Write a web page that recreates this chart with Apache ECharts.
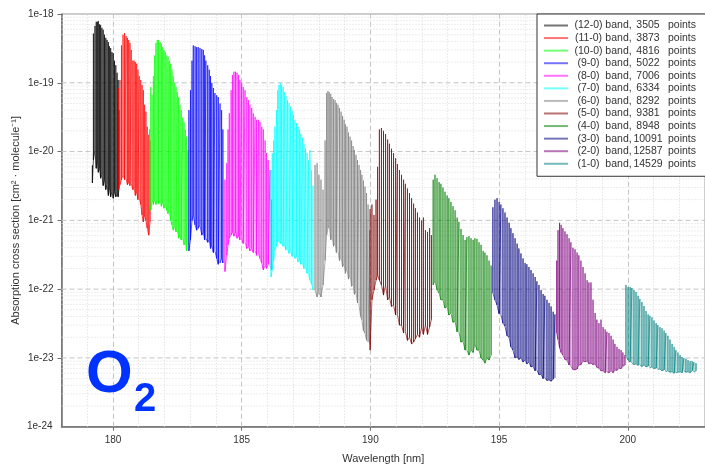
<!DOCTYPE html>
<html>
<head>
<meta charset="utf-8">
<script src="https://cdn.jsdelivr.net/npm/echarts@6/dist/echarts.min.js"></script>
<style>
  html, body { margin: 0; padding: 0; background: #ffffff; }
  #chart { width: 705px; height: 466px; }
</style>
</head>
<body>
<div id="chart"></div>
<script>
// O2 Schumann-Runge absorption bands: each entry is one rotational line,
// [wavelength nm, baseline cross section, peak cross section] in cm^2/molecule.
const band12_0 = [
  [179.20, 3.5e-21, 6.3e-21], [179.24, 7.5e-21, 5.2e-19], [179.30, 1.05e-20, 6.7e-19],
  [179.35, 5.7e-21, 7.7e-19], [179.39, 7.5e-21, 7.7e-19], [179.43, 5.0e-21, 7.9e-19],
  [179.48, 5.7e-21, 7.1e-19], [179.52, 4.1e-21, 6.9e-19], [179.57, 4.6e-21, 6.3e-19],
  [179.62, 3.2e-21, 5.9e-19], [179.67, 3.9e-21, 5.0e-19], [179.72, 2.8e-21, 4.5e-19],
  [179.77, 3.3e-21, 4.2e-19], [179.82, 2.3e-21, 3.9e-19], [179.86, 3.0e-21, 3.4e-19],
  [179.91, 2.2e-21, 3.2e-19], [179.96, 2.6e-21, 2.8e-19], [180.01, 2.1e-21, 2.7e-19],
  [180.06, 2.6e-21, 2.1e-19], [180.11, 2.2e-21, 1.8e-19], [180.16, 2.4e-21, 1.4e-19],
  [180.20, 2.2e-21, 1.1e-19], [180.23, 2.8e-21, 4.0e-20]
];
const band11_0 = [
  [180.21, 2.8e-21, 8.4e-20], [180.27, 3.3e-21, 1.1e-19], [180.33, 3.9e-21, 3.5e-19],
  [180.39, 4.6e-21, 5.0e-19], [180.45, 3.9e-21, 5.3e-19], [180.51, 4.1e-21, 4.8e-19],
  [180.56, 3.3e-21, 4.5e-19], [180.61, 3.6e-21, 4.2e-19], [180.66, 3.2e-21, 3.8e-19],
  [180.71, 3.4e-21, 3.0e-19], [180.77, 2.8e-21, 2.1e-19], [180.82, 3.0e-21, 2.1e-19],
  [180.87, 2.3e-21, 2.0e-19], [180.92, 2.6e-21, 1.9e-19], [180.97, 2.0e-21, 1.55e-19],
  [181.02, 2.1e-21, 1.25e-19], [181.08, 1.7e-21, 1.1e-19], [181.13, 1.2e-21, 9.3e-20],
  [181.18, 9.5e-22, 7.8e-20], [181.23, 1.2e-21, 4.8e-20], [181.28, 1.0e-21, 3.8e-20],
  [181.33, 7.7e-22, 2.3e-20], [181.39, 6.1e-22, 1.75e-20], [181.44, 9.5e-22, 1.45e-20]
];
const band10_0 = [
  [181.42, 1.7e-21, 2.1e-20], [181.47, 1.4e-21, 8.7e-20], [181.52, 2.0e-21, 6.7e-20],
  [181.57, 1.7e-21, 1.25e-19], [181.62, 2.0e-21, 2.5e-19], [181.67, 1.7e-21, 3.8e-19],
  [181.72, 2.1e-21, 4.2e-19], [181.77, 1.75e-21, 4.2e-19], [181.83, 2.0e-21, 3.9e-19],
  [181.88, 1.6e-21, 3.7e-19], [181.93, 1.85e-21, 3.3e-19], [181.98, 1.5e-21, 3.0e-19],
  [182.03, 1.75e-21, 2.8e-19], [182.09, 1.4e-21, 2.5e-19], [182.14, 1.25e-21, 2.4e-19],
  [182.19, 1.3e-21, 2.1e-19], [182.24, 1.0e-21, 1.9e-19], [182.29, 8.6e-22, 1.55e-19],
  [182.34, 7.2e-22, 1.25e-19], [182.40, 8.3e-22, 1.0e-19], [182.45, 6.8e-22, 8.7e-20],
  [182.50, 7.2e-22, 7.3e-20], [182.55, 5.5e-22, 6.2e-20], [182.60, 6.2e-22, 4.8e-20],
  [182.65, 5.2e-22, 4.0e-20], [182.71, 5.5e-22, 3.1e-20], [182.76, 4.4e-22, 2.7e-20],
  [182.81, 4.8e-22, 2.1e-20], [182.86, 3.6e-22, 1.65e-20], [182.91, 4.4e-22, 1.05e-20]
];
const band9_0 = [
  [182.95, 3.6e-22, 4.0e-20], [183.01, 5.2e-22, 7.8e-20], [183.07, 1.0e-21, 2.1e-19],
  [183.12, 1.2e-21, 3.5e-19], [183.19, 8.6e-22, 3.4e-19], [183.25, 7.2e-22, 3.3e-19],
  [183.31, 7.7e-22, 3.3e-19], [183.38, 8.6e-22, 3.2e-19], [183.45, 6.1e-22, 3.1e-19],
  [183.51, 6.8e-22, 3.0e-19], [183.56, 5.2e-22, 2.5e-19], [183.61, 5.5e-22, 2.1e-19],
  [183.68, 4.8e-22, 1.8e-19], [183.74, 5.2e-22, 1.55e-19], [183.79, 3.9e-22, 1.25e-19],
  [183.84, 4.4e-22, 1.0e-19], [183.90, 3.4e-22, 8.4e-20], [183.96, 3.6e-22, 7.1e-20],
  [184.03, 2.8e-22, 6.6e-20], [184.09, 2.3e-22, 6.2e-20], [184.16, 2.4e-22, 5.0e-20],
  [184.22, 2.8e-22, 4.0e-20], [184.27, 2.4e-22, 2.1e-20]
];
const band8_0 = [
  [184.35, 1.8e-22, 3.9e-21], [184.42, 3.1e-22, 6.8e-21], [184.47, 4.4e-22, 2.1e-20],
  [184.52, 5.5e-22, 3.6e-20], [184.59, 6.1e-22, 7.8e-20], [184.64, 6.8e-22, 1.3e-19],
  [184.70, 5.9e-22, 1.45e-19], [184.76, 6.8e-22, 1.45e-19], [184.82, 5.5e-22, 1.4e-19],
  [184.88, 5.9e-22, 1.3e-19], [184.93, 5.2e-22, 1.1e-19], [185.00, 5.5e-22, 1.0e-19],
  [185.06, 4.6e-22, 8.7e-20], [185.13, 4.8e-22, 7.8e-20], [185.20, 3.9e-22, 6.2e-20],
  [185.26, 4.2e-22, 5.6e-20], [185.32, 3.6e-22, 4.8e-20], [185.39, 3.9e-22, 4.3e-20],
  [185.45, 3.4e-22, 3.6e-20], [185.52, 3.6e-22, 3.2e-20], [185.58, 3.1e-22, 2.9e-20],
  [185.65, 3.3e-22, 2.9e-20], [185.71, 2.8e-22, 2.7e-20], [185.78, 2.4e-22, 2.3e-20],
  [185.84, 1.9e-22, 2.1e-20], [185.91, 2.2e-22, 1.45e-20], [185.97, 2.0e-22, 9.5e-21],
  [186.03, 2.3e-22, 7.5e-21], [186.10, 2.2e-22, 5.4e-21], [186.16, 1.9e-22, 2.0e-21]
];
const band7_0 = [
  [186.14, 1.5e-22, 5.4e-21], [186.19, 1.9e-22, 9.5e-21], [186.24, 2.6e-22, 1.45e-20],
  [186.29, 3.6e-22, 2.3e-20], [186.35, 4.2e-22, 4.0e-20], [186.40, 4.8e-22, 7.8e-20],
  [186.45, 5.2e-22, 9.3e-20], [186.50, 4.6e-22, 1.0e-19], [186.55, 5.0e-22, 9.3e-20],
  [186.61, 4.2e-22, 8.7e-20], [186.66, 4.4e-22, 7.3e-20], [186.72, 3.7e-22, 6.4e-20],
  [186.78, 3.9e-22, 5.6e-20], [186.84, 3.3e-22, 5.1e-20], [186.90, 3.5e-22, 4.5e-20],
  [186.96, 3.0e-22, 3.9e-20], [187.01, 3.2e-22, 3.4e-20], [187.07, 2.8e-22, 2.9e-20],
  [187.13, 3.0e-22, 2.6e-20], [187.19, 2.5e-22, 2.3e-20], [187.25, 2.7e-22, 2.1e-20],
  [187.30, 2.3e-22, 1.8e-20], [187.36, 2.4e-22, 1.6e-20], [187.42, 2.0e-22, 1.3e-20],
  [187.48, 2.1e-22, 1.1e-20], [187.54, 1.7e-22, 9.5e-21], [187.60, 1.6e-22, 7.5e-21],
  [187.65, 1.35e-22, 1.05e-20], [187.71, 1.2e-22, 5.4e-21], [187.77, 9.8e-23, 3.2e-21]
];
const band6_0 = [
  [187.85, 9.7e-23, 6.4e-21], [187.93, 7.7e-23, 6.8e-21], [188.00, 9.1e-23, 4.6e-21],
  [188.08, 7.7e-23, 3.9e-21], [188.16, 1.15e-22, 2.8e-21], [188.24, 2.6e-22, 1.45e-20],
  [188.30, 6.1e-22, 7.1e-20], [188.35, 7.7e-22, 7.6e-20], [188.40, 8.6e-22, 7.3e-20],
  [188.46, 5.2e-22, 6.9e-20], [188.51, 6.1e-22, 6.2e-20], [188.57, 4.2e-22, 5.8e-20],
  [188.63, 4.8e-22, 5.6e-20], [188.68, 3.4e-22, 5.1e-20], [188.74, 3.6e-22, 4.8e-20],
  [188.80, 2.6e-22, 4.3e-20], [188.86, 3.0e-22, 3.8e-20], [188.92, 2.1e-22, 3.3e-20],
  [188.98, 2.4e-22, 2.9e-20], [189.03, 1.7e-22, 2.5e-20], [189.09, 2.0e-22, 2.3e-20],
  [189.15, 1.4e-22, 1.9e-20], [189.21, 1.6e-22, 1.65e-20], [189.27, 1.1e-22, 1.45e-20],
  [189.33, 1.2e-22, 1.2e-20], [189.38, 8.4e-23, 1.05e-20], [189.44, 9.1e-23, 8.9e-21],
  [189.50, 6.3e-23, 7.5e-21], [189.56, 5.9e-23, 6.4e-21], [189.62, 4.0e-23, 5.4e-21],
  [189.67, 3.6e-23, 4.6e-21], [189.73, 2.5e-23, 3.8e-21], [189.79, 2.3e-23, 3.1e-21],
  [189.85, 1.8e-23, 2.5e-21], [189.91, 1.7e-23, 1.7e-21], [189.97, 1.6e-23, 7.2e-22]
];
const band5_0 = [
  [189.99, 1.3e-23, 1.45e-21], [190.06, 7.0e-23, 1.7e-21], [190.14, 9.7e-23, 1.2e-21],
  [190.22, 1.35e-22, 2.0e-21], [190.28, 1.6e-22, 6.0e-21], [190.35, 1.35e-22, 2.1e-20],
  [190.43, 1.15e-22, 2.2e-20], [190.51, 8.2e-23, 2.0e-20], [190.59, 1.15e-22, 1.8e-20],
  [190.67, 7.0e-23, 1.5e-20], [190.74, 7.7e-23, 1.3e-20], [190.82, 5.6e-23, 1.1e-20],
  [190.90, 5.9e-23, 9.5e-21], [190.98, 4.2e-23, 8.0e-21], [191.05, 4.3e-23, 6.6e-21],
  [191.13, 3.0e-23, 5.4e-21], [191.21, 3.0e-23, 4.6e-21], [191.29, 2.3e-23, 3.9e-21],
  [191.36, 2.4e-23, 3.4e-21], [191.44, 1.8e-23, 2.9e-21], [191.52, 2.0e-23, 2.5e-21],
  [191.60, 1.6e-23, 2.1e-21], [191.68, 1.7e-23, 1.75e-21], [191.75, 1.9e-23, 1.5e-21],
  [191.83, 2.2e-23, 1.3e-21], [191.91, 2.0e-23, 1.1e-21], [191.99, 2.8e-23, 1.0e-21],
  [192.06, 2.2e-23, 1.1e-21], [192.14, 3.0e-23, 7.2e-22], [192.22, 2.2e-23, 6.8e-22],
  [192.30, 2.8e-23, 7.7e-22], [192.37, 3.6e-23, 6.1e-22]
];
const band4_0 = [
  [192.44, 1.15e-22, 3.9e-21], [192.51, 1.35e-22, 4.6e-21], [192.59, 9.7e-23, 4.1e-21],
  [192.67, 8.8e-23, 3.6e-21], [192.74, 7.0e-23, 3.4e-21], [192.82, 7.0e-23, 3.0e-21],
  [192.90, 5.3e-23, 2.6e-21], [192.98, 5.6e-23, 2.3e-21], [193.05, 4.2e-23, 2.1e-21],
  [193.13, 4.5e-23, 1.85e-21], [193.21, 3.3e-23, 1.6e-21], [193.29, 3.4e-23, 1.4e-21],
  [193.37, 2.4e-23, 1.1e-21], [193.44, 2.4e-23, 9.5e-22], [193.52, 1.7e-23, 7.5e-22],
  [193.60, 1.75e-23, 6.1e-22], [193.68, 1.3e-23, 5.2e-22], [193.75, 1.3e-23, 5.7e-22],
  [193.83, 1.1e-23, 5.9e-22], [193.91, 1.3e-23, 5.5e-22], [193.99, 1.2e-23, 5.2e-22],
  [194.06, 1.6e-23, 5.5e-22], [194.14, 1.3e-23, 5.4e-22], [194.22, 1.3e-23, 4.8e-22],
  [194.30, 1.0e-23, 4.4e-22], [194.38, 9.3e-24, 3.6e-22], [194.45, 8.4e-24, 3.4e-22],
  [194.53, 1.0e-23, 3.1e-22], [194.61, 9.3e-24, 2.6e-22], [194.69, 1.1e-23, 2.2e-22]
];
const band3_0 = [
  [194.76, 8.8e-23, 1.55e-21], [194.84, 7.0e-23, 2.0e-21], [194.92, 5.9e-23, 2.1e-21],
  [195.00, 4.4e-23, 1.85e-21], [195.07, 4.3e-23, 1.7e-21], [195.15, 3.2e-23, 1.5e-21],
  [195.23, 2.9e-23, 1.3e-21], [195.31, 2.1e-23, 1.1e-21], [195.39, 2.0e-23, 9.2e-22],
  [195.46, 1.45e-23, 7.7e-22], [195.54, 1.3e-23, 6.5e-22], [195.62, 1.0e-23, 5.5e-22],
  [195.70, 1.03e-23, 4.6e-22], [195.77, 9.5e-24, 3.9e-22], [195.85, 1.0e-23, 3.3e-22],
  [195.93, 8.7e-24, 2.8e-22], [196.01, 9.3e-24, 2.4e-22], [196.08, 8.2e-24, 2.3e-22],
  [196.16, 8.7e-24, 2.1e-22], [196.24, 7.4e-24, 1.9e-22], [196.32, 7.6e-24, 1.7e-22],
  [196.40, 6.5e-24, 1.5e-22], [196.47, 6.7e-24, 1.3e-22], [196.55, 5.7e-24, 1.15e-22],
  [196.63, 5.8e-24, 9.7e-23], [196.71, 5.0e-24, 8.5e-23], [196.78, 5.1e-24, 8.0e-23],
  [196.86, 4.7e-24, 7.0e-23], [196.94, 4.8e-24, 6.3e-23], [197.02, 4.6e-24, 5.6e-23],
  [197.10, 4.9e-24, 4.7e-23], [197.17, 5.1e-24, 4.3e-23]
];
const band2_0 = [
  [197.24, 2.3e-23, 2.6e-22], [197.29, 1.85e-23, 7.2e-22], [197.35, 1.4e-23, 9.2e-22],
  [197.41, 1.2e-23, 8.6e-22], [197.48, 1.1e-23, 7.7e-22], [197.56, 9.5e-24, 6.9e-22],
  [197.64, 9.3e-24, 6.3e-22], [197.72, 7.9e-24, 5.5e-22], [197.79, 7.6e-24, 4.8e-22],
  [197.87, 6.8e-24, 4.0e-22], [197.95, 6.7e-24, 3.8e-22], [198.03, 6.9e-24, 3.4e-22],
  [198.10, 7.9e-24, 3.1e-22], [198.18, 8.0e-24, 2.6e-22], [198.26, 9.0e-24, 2.1e-22],
  [198.34, 8.8e-24, 1.7e-22], [198.42, 9.0e-24, 1.35e-22], [198.49, 8.2e-24, 1.25e-22],
  [198.57, 8.4e-24, 1.25e-22], [198.65, 8.0e-24, 7.0e-23], [198.73, 8.2e-24, 4.5e-23],
  [198.80, 7.3e-24, 3.6e-23], [198.88, 7.1e-24, 3.2e-23], [198.96, 6.5e-24, 3.6e-23],
  [199.04, 6.5e-24, 2.8e-23], [199.12, 6.1e-24, 2.6e-23], [199.19, 6.3e-24, 2.4e-23],
  [199.27, 6.1e-24, 2.3e-23], [199.35, 6.5e-24, 2.1e-23], [199.43, 6.1e-24, 1.85e-23],
  [199.50, 6.7e-24, 1.6e-23], [199.58, 6.6e-24, 1.45e-23], [199.66, 7.1e-24, 1.35e-23],
  [199.74, 7.0e-24, 1.3e-23], [199.81, 7.6e-24, 1.2e-23], [199.89, 7.9e-24, 1.1e-23]
];
const band1_0 = [
  [199.93, 1.07e-23, 1.15e-22], [200.01, 9.3e-24, 1.07e-22], [200.09, 8.7e-24, 1.07e-22],
  [200.16, 8.4e-24, 1.04e-22], [200.24, 8.0e-24, 9.7e-23], [200.32, 8.2e-24, 9.1e-23],
  [200.40, 7.8e-24, 8.0e-23], [200.47, 7.9e-24, 7.2e-23], [200.55, 7.5e-24, 6.5e-23],
  [200.63, 7.9e-24, 5.7e-23], [200.71, 7.4e-24, 4.8e-23], [200.79, 7.6e-24, 4.3e-23],
  [200.86, 7.2e-24, 4.1e-23], [200.94, 7.4e-24, 3.9e-23], [201.02, 7.0e-24, 3.5e-23],
  [201.10, 7.1e-24, 3.2e-23], [201.17, 6.8e-24, 3.0e-23], [201.25, 6.9e-24, 2.8e-23],
  [201.33, 6.5e-24, 2.7e-23], [201.41, 6.7e-24, 2.5e-23], [201.48, 6.3e-24, 2.3e-23],
  [201.56, 6.5e-24, 2.1e-23], [201.64, 6.2e-24, 1.85e-23], [201.72, 6.3e-24, 1.6e-23],
  [201.80, 6.0e-24, 1.45e-23], [201.87, 6.1e-24, 1.3e-23], [201.95, 6.2e-24, 1.2e-23],
  [202.03, 6.3e-24, 1.1e-23], [202.11, 6.1e-24, 1.03e-23], [202.18, 6.5e-24, 1.0e-23],
  [202.26, 6.2e-24, 9.7e-24], [202.34, 6.3e-24, 9.3e-24], [202.42, 6.1e-24, 9.0e-24],
  [202.50, 6.5e-24, 9.0e-24], [202.57, 6.2e-24, 8.7e-24], [202.65, 6.5e-24, 8.4e-24]
];

// Legend entries: vibrational band and number of tabulated points per band
const bandLabels = ['(12-0)', '(11-0)', '(10-0)', '(9-0)', '(8-0)', '(7-0)',
                    '(6-0)', '(5-0)', '(4-0)', '(3-0)', '(2-0)', '(1-0)'];
const pointCounts = [3505, 3873, 4816, 5022, 7006, 6334, 8292, 9381, 8948, 10091, 12587, 14529];
const bandColors = ['#000000', '#ff0000', '#00ff00', '#0000ff', '#ff00ff', '#00ffff',
                    '#808080', '#800000', '#008000', '#000080', '#800080', '#008080'];
const bandLines = [band12_0, band11_0, band10_0, band9_0, band8_0, band7_0,
                   band6_0, band5_0, band4_0, band3_0, band2_0, band1_0];

// Axis ticks
const xTicks = [180, 185, 190, 195, 200];
const X_MIN = 178, X_MAX = 203;
const Y_MIN = 1e-24, Y_MAX = 1e-18;

const FONT = '"Liberation Sans", Arial, Helvetica, sans-serif';

// Each line is drawn as a vertical stroke: baseline -> peak -> baseline
function toPath(lines) {
  const pts = [];
  lines.forEach(([wl, lo, hi]) => {
    pts.push([wl, lo]); pts.push([wl, hi]); pts.push([wl, lo]);
  });
  return pts;
}

// Vertical grid: dashed at labelled wavelengths, dotted every 1 nm
const majorStyle = { color: '#c4c4c4', width: 1, type: [5, 3] };
const minorStyle = { color: '#dadada', width: 1, type: [1, 2] };
const vGrid = [];
for (let w = 179; w <= 202; w++) {
  vGrid.push({ xAxis: w, lineStyle: xTicks.includes(w) ? majorStyle : minorStyle });
}

// Horizontal grid as plain line paths across the plot (broken with null between rows)
function rows(levels) {
  const pts = [];
  levels.forEach(v => { pts.push([X_MIN, v]); pts.push([X_MAX, v]); pts.push([X_MAX, null]); });
  return pts;
}
const decadeRows = [], minorRows = [];
for (let e = -24; e < -18; e++) {
  if (e > -24) decadeRows.push(Math.pow(10, e));
  for (let k = 2; k <= 9; k++) minorRows.push(k * Math.pow(10, e));
}
function gridSeries(levels, style) {
  return {
    type: 'line', data: rows(levels), symbol: 'none', showSymbol: false,
    connectNulls: false, silent: true, z: 1, animation: false,
    lineStyle: style, emphasis: { disabled: true }, tooltip: { show: false }
  };
}

// Label for the bottom decade, anchored at the axis origin
const bottomDecadeLabel = {
  type: 'scatter', symbol: 'circle', symbolSize: 2, silent: true, z: 5, animation: false,
  itemStyle: { color: 'rgba(255,255,255,0)' },
  data: [[X_MIN, Y_MIN]],
  label: {
    show: true, position: 'left', distance: 8, opacity: 1,
    fontSize: 10, color: '#333', fontFamily: FONT,
    formatter: p => '1e' + Math.round(Math.log10(p.value[1]))
  },
  labelLayout: { hideOverlap: false },
  clip: false
};

const series = [gridSeries(minorRows, minorStyle), gridSeries(decadeRows, majorStyle)];
bandLines.forEach((lines, i) => {
  const s = {
    name: bandLabels[i],
    type: 'line',
    data: toPath(lines),
    symbol: 'none',
    showSymbol: false,
    z: 3,
    lineStyle: { color: bandColors[i], width: 1, opacity: 0.65 },
    itemStyle: { color: bandColors[i] },
    emphasis: { disabled: true },
    animation: false
  };
  if (i === 0) {
    s.markLine = {
      silent: true, z: 1, symbol: ['none', 'none'],
      label: { show: false }, animation: false, data: vGrid
    };
  }
  series.push(s);
});
series.push(bottomDecadeLabel);

const chart = echarts.init(document.getElementById('chart'), null, { renderer: 'canvas' });
chart.setOption({
  animation: false,
  backgroundColor: '#ffffff',
  textStyle: { fontFamily: FONT },
  grid: {
    left: 61.5, right: 0, top: 14, bottom: 39.3,
    containLabel: false,
    outerBoundsMode: 'none',
    show: true, borderColor: '#9a9a9a', borderWidth: 1, backgroundColor: 'transparent'
  },
  xAxis: {
    type: 'value',
    min: X_MIN, max: X_MAX,
    name: 'Wavelength [nm]',
    nameLocation: 'middle',
    nameGap: 27,
    nameMoveOverlap: false,
    nameTextStyle: { fontSize: 11, color: '#333', fontFamily: FONT },
    axisLine: { show: true, lineStyle: { color: '#6e6e6e', width: 1.5 } },
    axisTick: { show: true, length: 4, lineStyle: { color: '#6e6e6e' }, customValues: xTicks },
    axisLabel: { fontSize: 10, color: '#333', margin: 9, fontFamily: FONT, customValues: xTicks },
    splitLine: { show: false }
  },
  yAxis: {
    type: 'log',
    logBase: 10,
    min: Y_MIN, max: Y_MAX,
    splitNumber: 6,
    name: 'Absorption cross section [cm² · molecule⁻¹]',
    nameLocation: 'middle',
    nameGap: 40,
    nameMoveOverlap: false,
    nameTextStyle: { fontSize: 11, color: '#333', fontFamily: FONT },
    axisLine: { show: true, lineStyle: { color: '#6e6e6e', width: 1.5 } },
    axisTick: { show: true, length: 4, lineStyle: { color: '#6e6e6e' } },
    axisLabel: {
      fontSize: 10, color: '#333', margin: 8, fontFamily: FONT,
      showMinLabel: false, showMaxLabel: true, hideOverlap: false,
      formatter: v => {
        const e = Math.round(Math.log10(v));
        return e === -24 ? '' : '1e' + e;
      }
    },
    splitLine: { show: false }
  },
  legend: {
    orient: 'vertical',
    left: 537, top: 14,
    padding: [6, 30, 7, 7],
    icon: 'rect',
    itemWidth: 24, itemHeight: 2, itemGap: 1.57,
    itemStyle: { opacity: 0.55, borderWidth: 0 },
    borderColor: '#333', borderWidth: 1, backgroundColor: '#ffffff',
    selectedMode: false,
    data: bandLabels,
    formatter: name => {
      const n = pointCounts[bandLabels.indexOf(name)];
      return '{a|' + name + '}{b|band,}{c|' + n + '}{d|points}';
    },
    textStyle: {
      fontSize: 10.5, color: '#333', fontFamily: FONT,
      rich: {
        a: { width: 31, align: 'right', fontSize: 10.5, lineHeight: 12, color: '#333' },
        b: { width: 25, align: 'left', fontSize: 10.5, lineHeight: 12, color: '#333', padding: [0, 0, 0, 2] },
        c: { width: 34, align: 'right', fontSize: 10.5, lineHeight: 12, color: '#333' },
        d: { align: 'left', fontSize: 10.5, lineHeight: 12, color: '#333', padding: [0, 0, 0, 3] }
      }
    }
  },
  graphic: [
    {
      type: 'text', x: 86, y: 375.5, silent: true, z: 10,
      style: {
        text: 'O', fill: '#0033ff', fontSize: 60, fontWeight: 'bold', fontFamily: FONT,
        textAlign: 'left', textVerticalAlign: 'middle', align: 'left', verticalAlign: 'middle'
      }
    },
    {
      type: 'text', x: 134, y: 399.5, silent: true, z: 10,
      style: {
        text: '2', fill: '#0033ff', fontSize: 40, fontWeight: 'bold', fontFamily: FONT,
        textAlign: 'left', textVerticalAlign: 'middle', align: 'left', verticalAlign: 'middle'
      }
    }
  ],
  series: series
});
</script>
</body>
</html>
